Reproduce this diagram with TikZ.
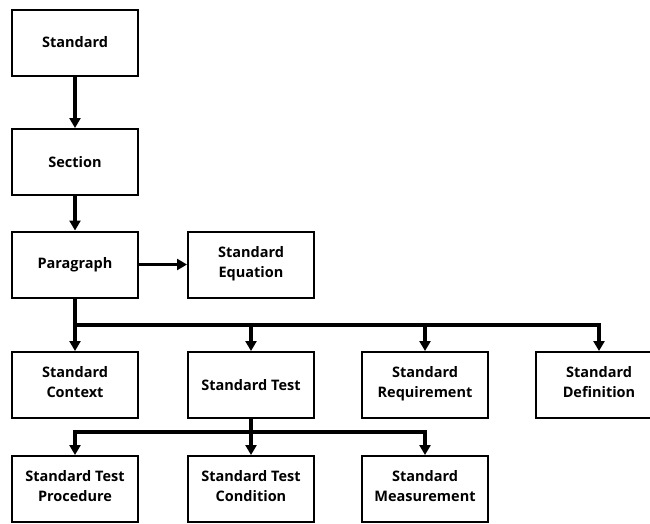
\documentclass[tikz,border=0pt]{standalone}
\usepackage{fontspec}
\setmainfont{Open Sans}
\usetikzlibrary{arrows.meta}
\begin{document}
\begin{tikzpicture}[x=1pt,y=-1pt,
  box/.style={draw, line width=2pt, minimum width=126pt, minimum height=66pt, align=center, font=\bfseries\fontsize{14.5}{20}\selectfont, inner sep=2pt},
  conn/.style={line width=3.4pt, -{Triangle[length=10pt,width=11pt]}},
  plain/.style={line width=3.4pt}]
\useasboundingbox (0,0) rectangle (650,523);
\node[box] (std) at (75,42.5) {Standard};
\node[box] (sec) at (75,162) {Section};
\node[box] (par) at (75,264.5) {Paragraph};
\node[box] (eq) at (251,264.5) {Standard\\Equation\strut};
\node[box] (ctx) at (75,385) {Standard\\Context\strut};
\node[box] (tst) at (251,385) {Standard Test};
\node[box] (req) at (425,385) {Standard\\Requirement\strut};
\node[box] (def) at (599,385) {Standard\\Definition\strut};
\node[box] (proc) at (75,489) {Standard Test\\Procedure\strut};
\node[box] (cond) at (251,489) {Standard Test\\Condition\strut};
\node[box] (meas) at (425,489) {Standard\\Measurement\strut};
\coordinate (b1) at (75,325);
\coordinate (b2) at (251,432);
\draw[conn] (std) -- (sec);
\draw[conn] (sec) -- (par);
\draw[conn] (par) -- (eq);
\draw[plain] (par.south) -- (b1);
\draw[conn] (b1) -- (ctx.north);
\draw[conn] (b1) -| (tst.north);
\draw[conn] (b1) -| (req.north);
\draw[conn] (b1) -| (def.north);
\draw[plain] (tst.south) -- (b2);
\draw[conn] (b2) -| (proc.north);
\draw[conn] (b2) -- (cond.north);
\draw[conn] (b2) -| (meas.north);
\end{tikzpicture}
\end{document}
